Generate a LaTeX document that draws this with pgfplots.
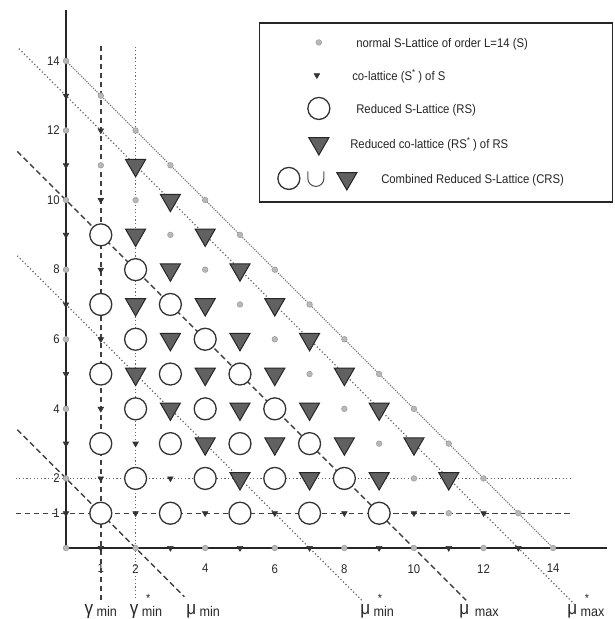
\documentclass[border=0pt]{standalone}
\usepackage{fontspec}
\setmainfont{Liberation Sans}[FakeStretch=0.9]
\usepackage{pgfplots}
\pgfplotsset{compat=1.18}
\newcommand\lf{\fontsize{6.3}{7}\selectfont}
\newcommand\gk{\fontsize{9.5}{9.5}\selectfont}
\newcommand\sub[1]{\raisebox{-1pt}{\fontsize{7}{7}\selectfont #1}}
\newcommand\st{\rlap{\hspace{2.2pt}\raisebox{6pt}{\fontsize{6}{6}\selectfont *}}}
\tikzset{
  dashL/.style={black!75, line width=0.7pt, dash pattern=on 2.8pt off 1.7pt},
  dotL/.style={black!60, line width=0.65pt, dash pattern=on 0.6pt off 1.2pt},
  finL/.style={black!55, line width=0.55pt, dash pattern=on 0.6pt off 0.6pt},
  sdot/.style={fill=gray!55, draw=gray!75, line width=0.3pt},
  scirc/.style={fill=white, draw=black!80, line width=0.65pt},
  btri/.style={fill=black!62, draw=black!85, line width=0.5pt},
  stri/.style={fill=black!80, draw=black!80, line width=0.3pt},
  legtxt/.style={anchor=base west, font=\lf, text=black!85, inner sep=0pt},
}
\begin{document}
\begin{tikzpicture}
\begin{axis}[
  x=17.4pt, y=17.4pt,
  xmin=0, xmax=15.55, ymin=0, ymax=15.46,
  axis lines=left,
  axis line style={-, black!85, line width=0.9pt},
  clip=false,
  xtick={1,2,4,6,8,10,12,14},
  ytick={1,2,4,6,8,10,12,14},
  major tick length=0pt,
  /pgf/number format/assume math mode=true,
  ticklabel style={font=\lf, black!85},
  xticklabel style={yshift=-4.6pt},
  yticklabel style={xshift=0.4pt},
]
% guide lines
\addplot[dashL] coordinates {(1,-1.5) (1,14.45)};
\addplot[dotL] coordinates {(2,-1.45) (2,14.45)};
\addplot[dashL] coordinates {(-1.45,1) (14.5,1)};
\addplot[dotL] coordinates {(-1.45,2) (14.5,2)};
\addplot[dashL] coordinates {(-1.4,3.4) (3.4,-1.4)};
\addplot[dashL] coordinates {(-1.4,11.4) (11.5,-1.5)};
\addplot[dotL] coordinates {(-1.4,8.4) (8.5,-1.5)};
\addplot[dotL] coordinates {(-1.35,14.35) (14.6,-1.6)};
\addplot[finL] coordinates {(0,14) (14,0)};
% S lattice (visible points)
\addplot[only marks, mark=*, mark size=1.4pt, mark options={sdot}]
coordinates {
 (0,0) (0,2) (2,0) (0,4) (4,0) (0,6) (6,0) (0,8) (8,0) (0,10) (10,0)
 (0,12) (1,11) (2,10) (3,9) (4,8) (5,7) (6,6) (7,5) (8,4) (9,3) (10,2) (11,1) (12,0)
 (0,14) (1,13) (2,12) (3,11) (4,10) (5,9) (6,8) (7,7) (8,6) (9,5) (10,4) (11,3) (12,2) (13,1) (14,0)
};
% co-lattice S* (visible points)
\addplot[only marks, mark=triangle*, mark size=1.6pt,
  mark options={rotate=180, stri}]
coordinates {
 (0,1) (1,0) (0,3) (1,2) (2,1) (3,0) (0,5) (1,4) (2,3) (3,2) (4,1) (5,0)
 (0,7) (1,6) (6,1) (7,0) (0,9) (1,8) (8,1) (9,0) (0,11) (1,10) (10,1) (11,0)
 (0,13) (1,12) (12,1) (13,0)
};
% reduced S-lattice RS
\addplot[only marks, mark=*, mark size=5.5pt, mark options={scirc}]
coordinates {
 (1,1) (1,3) (2,2) (3,1) (1,5) (2,4) (3,3) (4,2) (5,1)
 (1,7) (2,6) (3,5) (4,4) (5,3) (6,2) (7,1)
 (1,9) (2,8) (3,7) (4,6) (5,5) (6,4) (7,3) (8,2) (9,1)
};
% reduced co-lattice RS*
\addplot[only marks, mark=triangle*, mark size=5.8pt,
  mark options={rotate=180, btri}]
coordinates {
 (2,5) (3,4) (4,3) (5,2)
 (2,7) (3,6) (4,5) (5,4) (6,3) (7,2)
 (2,9) (3,8) (4,7) (5,6) (6,5) (7,4) (8,3) (9,2)
 (2,11) (3,10) (4,9) (5,8) (6,7) (7,6) (8,5) (9,4) (10,3) (11,2)
};
% legend box
\node[name=leg, anchor=north east, draw=black!85, line width=0.6pt, fill=white,
  inner sep=0pt, minimum width=176.5pt, minimum height=89.5pt]
  at (rel axis cs:1.011,0.977) {};
% bottom labels
\node[anchor=base, black!85] at (axis cs:1.0,-1.9) {{\gk γ}\,\sub{min}};
\node[anchor=base, black!85] at (axis cs:2.3,-1.9) {{\gk γ}\,\st\sub{min}};
\node[anchor=base, black!85] at (axis cs:3.94,-1.9) {{\gk μ}\,\sub{min}};
\node[anchor=base, black!85] at (axis cs:8.94,-1.9) {{\gk μ}\,\st\sub{min}};
\node[anchor=base, black!85] at (axis cs:11.87,-1.9) {{\gk μ}\;\sub{max}};
\node[anchor=base, black!85] at (axis cs:14.94,-1.9) {{\gk μ}\,\st\sub{max}};
\coordinate (bbSW) at (axis cs:-1.897,-2.04);
\coordinate (bbNE) at (axis cs:15.75,15.75);
\end{axis}
% legend symbols (relative to the legend box)
\begin{scope}[shift={(leg.north west)}]
\filldraw[sdot] (30pt,-10pt) circle (1.4pt);
\filldraw[stri] (29pt,-28pt) -- (30.4pt,-25.6pt) -- (27.6pt,-25.6pt) -- cycle;
\filldraw[scirc] (30pt,-43pt) circle (5.5pt);
\filldraw[btri] (30pt,-66.3pt) -- (35.02pt,-57.6pt) -- (24.98pt,-57.6pt) -- cycle;
\filldraw[scirc] (15pt,-78pt) circle (5.5pt);
\draw[black!70, line width=0.5pt] (24.5pt,-74.5pt) -- (24.5pt,-78pt) arc (180:360:4pt) -- (32.5pt,-74.5pt);
\filldraw[btri] (44pt,-83.8pt) -- (49.02pt,-75.1pt) -- (38.98pt,-75.1pt) -- cycle;
\node[legtxt] at (48.5pt,-12.3pt) {normal S-Lattice of order L=14 (S)};
\node[legtxt] at (46.5pt,-28.8pt) {co-lattice (S\textsuperscript{*}\,) of S};
\node[legtxt] at (48.5pt,-45.3pt) {Reduced S-Lattice (RS)};
\node[legtxt] at (45.5pt,-62.8pt) {Reduced co-lattice (RS\textsuperscript{*}\,) of RS};
\node[legtxt] at (61pt,-80.3pt) {Combined Reduced S-Lattice (CRS)};
\end{scope}
\pgfresetboundingbox
\path[use as bounding box] (bbSW) rectangle (bbNE);
\end{tikzpicture}
\end{document}
